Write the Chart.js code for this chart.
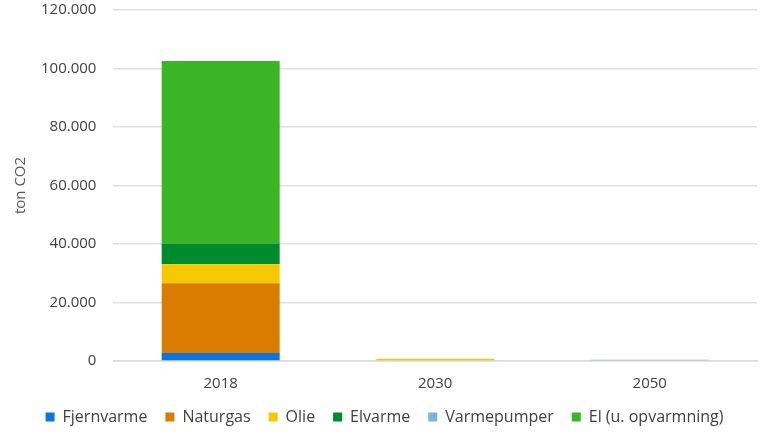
<!DOCTYPE html>
<html>
<head>
<meta charset="utf-8">
<script src="https://cdn.jsdelivr.net/npm/chart.js@4"></script>
<style>
  html, body { margin: 0; padding: 0; background: #fff; }
  #wrap { width: 767px; height: 435px; }
</style>
</head>
<body>
<div id="wrap"><canvas id="graf"></canvas></div>
<script>
const aar = ["2018", "2030", "2050"];
const fjernvarme = [2700, 0, 0];
const naturgas = [23900, 0, 0];
const olie = [6500, 800, 0];
const elvarme = [7100, 0, 0];
const varmepumper = [0, 0, 400];
const elUdenOpv = [62400, 0, 0];
const yTicks = [0, 20000, 40000, 60000, 80000, 100000, 120000];

function tal(v) {
    return String(v).replace(/\B(?=(\d{3})+(?!\d))/g, ".");
}

function serie(label, data, farve) {
    return { label: label, data: data, backgroundColor: farve, borderWidth: 0 };
}

// legenden lidt op, så den står midt i den nederste stribe
const flytLegende = {
    id: "flytLegende",
    afterLayout(chart) {
        chart.legend.top -= 8;
        chart.legend.bottom -= 8;
    }
};

const ctx = document.getElementById("graf");

new Chart(ctx, {
    type: "bar",
    plugins: [flytLegende],
    data: {
        labels: aar,
        datasets: [
            serie("Fjernvarme", fjernvarme, "#0a74e0"),
            serie("Naturgas", naturgas, "#d97c00"),
            serie("Olie", olie, "#f5c800"),
            serie("Elvarme", elvarme, "#008a2e"),
            serie("Varmepumper", varmepumper, "#7ab5df"),
            serie("El (u. opvarmning)", elUdenOpv, "#3ab526")
        ]
    },
    options: {
        responsive: true,
        maintainAspectRatio: false,
        animation: false,
        layout: { padding: { top: 0, right: 10, left: 12, bottom: -8 } },
        datasets: { bar: { categoryPercentage: 0.55, barPercentage: 1 } },
        plugins: {
            tooltip: { enabled: false },
            legend: {
                position: "bottom",
                labels: {
                    boxWidth: 9,
                    boxHeight: 9,
                    padding: 18,
                    color: "#404040",
                    font: { family: "Open Sans", size: 16 }
                }
            }
        },
        scales: {
            x: {
                stacked: true,
                grid: { display: false },
                border: { color: "#d9d9d9", width: 1.5 },
                ticks: { color: "#404040", font: { family: "Open Sans", size: 15 }, padding: 6 }
            },
            y: {
                stacked: true,
                min: 0,
                max: 120000,
                afterBuildTicks: axis => { axis.ticks = yTicks.map(v => ({ value: v })); },
                grid: { color: "#e0e0e0", lineWidth: 1.5, drawTicks: true, tickLength: 16, tickColor: "rgba(0,0,0,0)" },
                border: { display: false },
                ticks: {
                    color: "#404040",
                    font: { family: "Open Sans", size: 15 },
                    padding: 1,
                    callback: v => tal(v)
                },
                title: {
                    display: true,
                    text: "ton CO2",
                    color: "#595959",
                    font: { family: "Open Sans", size: 15 },
                    padding: { top: 0, bottom: 10 }
                }
            }
        }
    }
});
</script>
</body>
</html>
